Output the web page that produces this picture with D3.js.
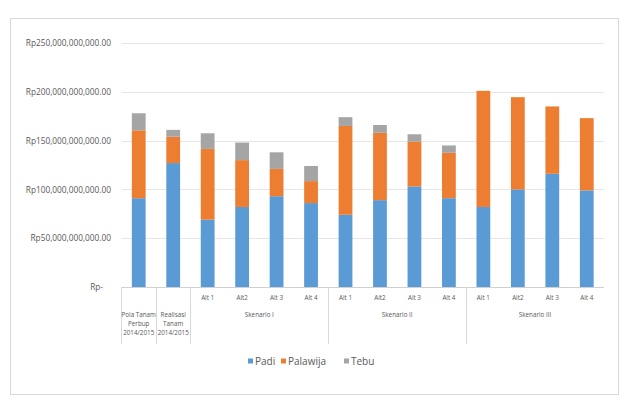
<!DOCTYPE html>
<html>
<head>
<meta charset="utf-8">
<script src="https://cdn.jsdelivr.net/npm/d3@7/dist/d3.min.js"></script>
<style>
    body { margin: 0; background: #fff; }
    svg { display: block; font-family: "Open Sans", sans-serif; }
</style>
</head>
<body>
<svg id="chart" width="630" height="402"></svg>
<script>
// values, in billions of rupiah
var categories = ["Pola Tanam Perbup 2014/2015", "Realisasi Tanam 2014/2015",
    "Alt 1", "Alt2", "Alt 3", "Alt 4",
    "Alt 1", "Alt2", "Alt 3", "Alt 4",
    "Alt 1", "Alt2", "Alt 3", "Alt 4"];
var catLines = [["Pola Tanam", "Perbup", "2014/2015"], ["Realisasi", "Tanam", "2014/2015"]];
var groups = [
    { name: "Skenario I", from: 2, to: 5 },
    { name: "Skenario II", from: 6, to: 9 },
    { name: "Skenario III", from: 10, to: 13 }
];
var padi = [91, 127, 69, 82, 93, 86, 74, 89, 103, 91, 82, 100, 116, 99];
var palawija = [69.5, 27, 72.5, 48, 28, 22.5, 91, 69, 46, 46.5, 119, 94.5, 69, 74];
var tebu = [17.5, 7, 16, 18, 17, 15.5, 9, 8, 7.5, 7.5, 0, 0, 0, 0];
var seriesNames = ["Padi", "Palawija", "Tebu"];
var colors = ["#5b9bd5", "#ed7d31", "#a5a5a5"];
var yTicks = [0, 50, 100, 150, 200, 250];
var yTickLabels = ["Rp-", "Rp50,000,000,000.00", "Rp100,000,000,000.00",
    "Rp150,000,000,000.00", "Rp200,000,000,000.00", "Rp250,000,000,000.00"];

var svg = d3.select("#chart");

// chart frame
svg.append("rect")
    .attr("x", 10.5).attr("y", 18.5)
    .attr("width", 608).attr("height", 376)
    .attr("fill", "none").attr("stroke", "#d9d9d9");

var x = d3.scaleBand()
    .domain(d3.range(categories.length))
    .range([121.5, 604])
    .paddingInner(0.6)
    .paddingOuter(0.3);

var y = d3.scaleLinear().domain([0, 250]).range([287, 43]);

// gridlines
svg.append("g").selectAll("line")
    .data(yTicks)
    .join("line")
    .attr("x1", 121.5).attr("x2", 604)
    .attr("y1", function (d) { return Math.round(y(d)) + 0.5; })
    .attr("y2", function (d) { return Math.round(y(d)) + 0.5; })
    .attr("stroke", function (d) { return d === 0 ? "#d0d0d0" : "#e6e6e6"; });

// y labels
var yAxis = d3.axisLeft(y)
    .tickValues(yTicks)
    .tickSize(0)
    .tickPadding(0)
    .tickFormat(function (d, i) { return yTickLabels[i]; });
var gy = svg.append("g").attr("transform", "translate(111,0)").call(yAxis);
gy.select(".domain").remove();
gy.selectAll("text")
    .attr("fill", "#595959")
    .attr("font-size", 8.3)
    .attr("font-family", "Open Sans, sans-serif")
    .attr("dx", function (d) { return d === 0 ? -8 : 0; });

// stacked bars
var rows = categories.map(function (c, i) {
    return { i: i, Padi: padi[i], Palawija: palawija[i], Tebu: tebu[i] };
});
var stack = d3.stack().keys(seriesNames)(rows);

svg.append("g").selectAll("g")
    .data(stack)
    .join("g")
    .attr("fill", function (d, k) { return colors[k]; })
    .selectAll("rect")
    .data(function (d) { return d; })
    .join("rect")
    .attr("x", function (d) { return x(d.data.i); })
    .attr("width", x.bandwidth())
    .attr("y", function (d) { return y(d[1]); })
    .attr("height", function (d) { return y(d[0]) - y(d[1]); });

// multi-level category axis
var step = x.step();
var edge = function (i) { return x(i) - (step - x.bandwidth()) / 2; };
var seps = [0, 1, 2, 6, 10];
svg.append("g").selectAll("line")
    .data(seps)
    .join("line")
    .attr("x1", function (i) { return Math.round(edge(i)) + 0.5; })
    .attr("x2", function (i) { return Math.round(edge(i)) + 0.5; })
    .attr("y1", 287).attr("y2", 344)
    .attr("stroke", "#d9d9d9");

var labelG = svg.append("g")
    .attr("fill", "#595959")
    .attr("font-size", 6.3)
    .attr("text-anchor", "middle");

labelG.selectAll("text.alt")
    .data(d3.range(2, categories.length))
    .join("text")
    .attr("class", "alt")
    .attr("x", function (i) { return x(i) + x.bandwidth() / 2; })
    .attr("y", 300)
    .text(function (i) { return categories[i]; });

catLines.forEach(function (lines, i) {
    labelG.append("text")
        .attr("x", x(i) + x.bandwidth() / 2)
        .selectAll("tspan")
        .data(lines)
        .join("tspan")
        .attr("x", x(i) + x.bandwidth() / 2)
        .attr("y", function (d, k) { return 317 + k * 9; })
        .text(function (d) { return d; });
});

labelG.selectAll("text.grp")
    .data(groups)
    .join("text")
    .attr("class", "grp")
    .attr("x", function (g) { return (x(g.from) + x(g.to) + x.bandwidth()) / 2; })
    .attr("y", 317)
    .text(function (g) { return g.name; });

// legend
var legend = svg.append("g").attr("font-size", 10).attr("fill", "#595959");
var legendX = [248, 281, 344];
var item = legend.selectAll("g")
    .data(seriesNames)
    .join("g")
    .attr("transform", function (d, k) { return "translate(" + legendX[k] + ",361)"; });
item.append("rect")
    .attr("x", 0).attr("y", -2.5)
    .attr("width", 5).attr("height", 5)
    .attr("fill", function (d, k) { return colors[k]; });
item.append("text")
    .attr("x", 7).attr("y", 3.8)
    .text(function (d) { return d; });
</script>
</body>
</html>
